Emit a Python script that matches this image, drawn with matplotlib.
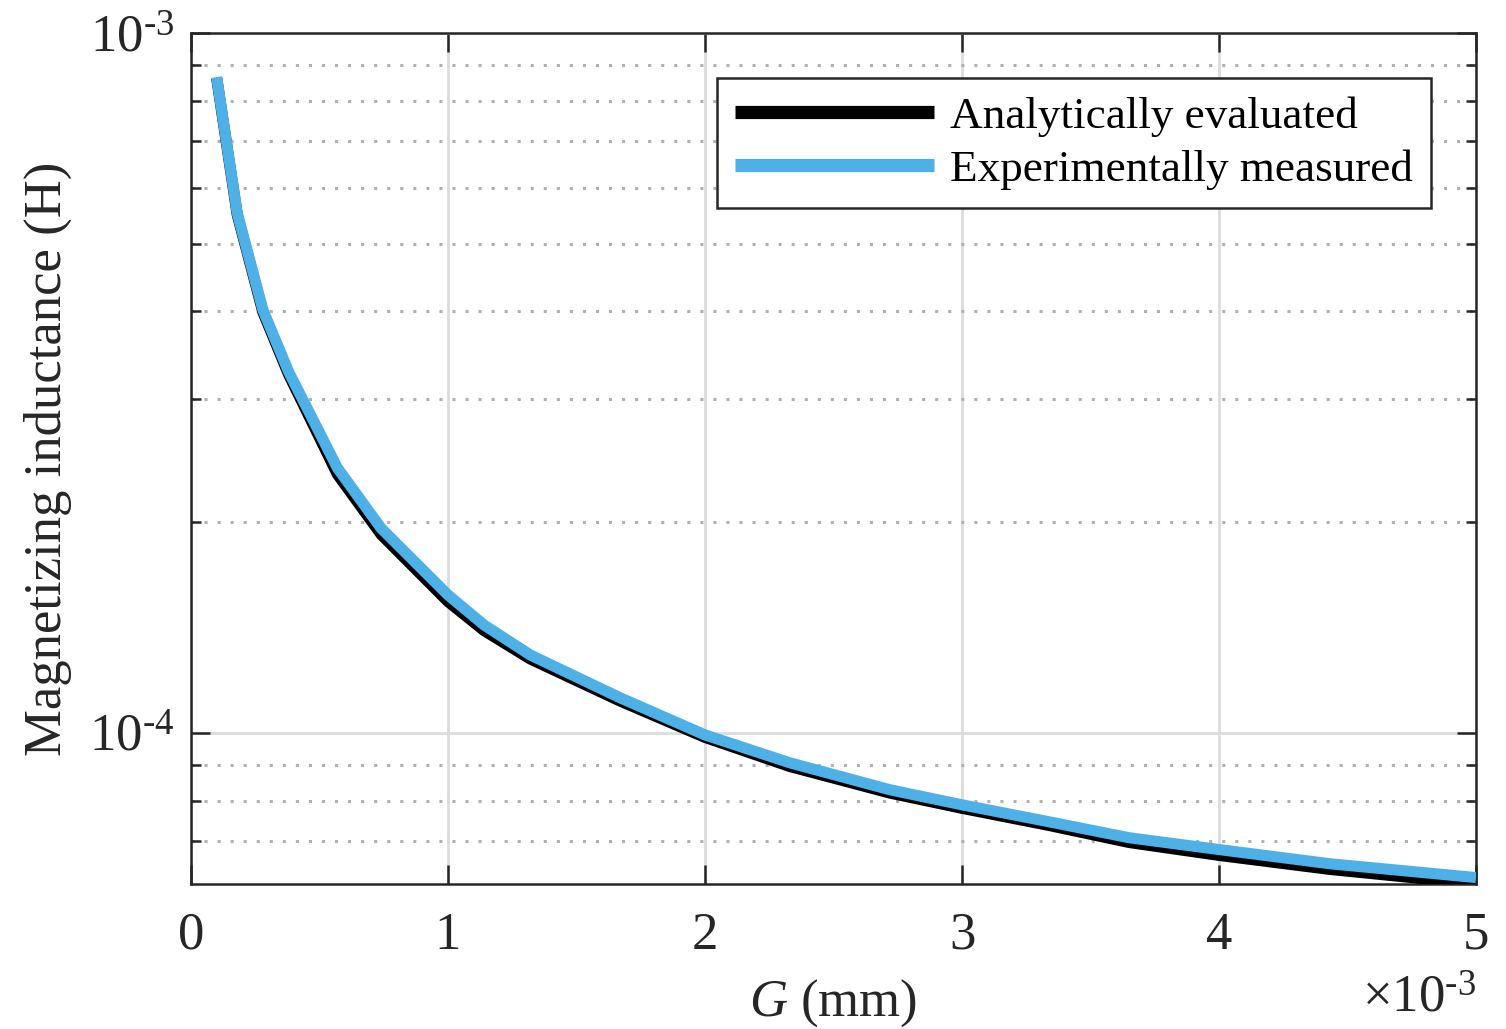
import numpy as np
import matplotlib.pyplot as plt
from matplotlib.ticker import FuncFormatter, LogLocator, NullFormatter

# gap length G (m) and magnetizing inductance (H)
G = [0.10e-3, 0.18e-3, 0.28e-3, 0.38e-3, 0.57e-3, 0.74e-3, 1.00e-3, 1.14e-3,
     1.32e-3, 1.67e-3, 2.00e-3, 2.33e-3, 2.72e-3, 3.00e-3, 3.34e-3, 3.65e-3,
     4.00e-3, 4.43e-3, 5.00e-3]
L_analytic = [8.62e-4, 5.50e-4, 3.99e-4, 3.25e-4, 2.34e-4, 1.92e-4, 1.54e-4, 1.40e-4,
              1.275e-4, 1.11e-4, 9.85e-5, 8.95e-5, 8.20e-5, 7.80e-5, 7.37e-5, 6.97e-5,
              6.68e-5, 6.38e-5, 6.08e-5]
L_measured = [8.65e-4, 5.53e-4, 4.02e-4, 3.28e-4, 2.39e-4, 1.96e-4, 1.574e-4, 1.426e-4,
              1.292e-4, 1.122e-4, 9.93e-5, 9.06e-5, 8.29e-5, 7.89e-5, 7.46e-5, 7.08e-5,
              6.81e-5, 6.50e-5, 6.21e-5]

plt.rcParams['font.family'] = 'Liberation Serif'
plt.rcParams['mathtext.fontset'] = 'custom'
plt.rcParams['mathtext.rm'] = 'Liberation Serif'
plt.rcParams['mathtext.it'] = 'Liberation Serif:italic'

dark = '#262626'
fs = 38
fig = plt.figure(figsize=(15.06, 10.29), dpi=100)
ax = fig.add_axes([0.1268, 0.1409, 0.8533, 0.827])

ax.plot(G, L_analytic, color='black', lw=8, solid_capstyle='butt',
        label='Analytically evaluated', zorder=3)
ax.plot(G, L_measured, color='#4DB0E6', lw=8, solid_capstyle='butt',
        label='Experimentally measured', zorder=4)

ax.set_yscale('log')
ax.set_xlim(0, 5e-3)
ax.set_ylim(6.08e-5, 1e-3)
ax.set_xticks([0, 1e-3, 2e-3, 3e-3, 4e-3, 5e-3])
ax.xaxis.set_major_formatter(FuncFormatter(lambda v, p: '%g' % round(v * 1e3, 6)))
ax.yaxis.set_major_locator(LogLocator(base=10, numticks=10))
ax.yaxis.set_major_formatter(FuncFormatter(
    lambda v, p: r'10$^{\text{-%d}}$' % round(-np.log10(v))))
ax.yaxis.set_minor_locator(LogLocator(base=10, subs=np.arange(2, 10), numticks=10))
ax.yaxis.set_minor_formatter(NullFormatter())

ax.grid(True, which='major', axis='both', color='#dcdcdc', lw=2, zorder=0)
ax.grid(True, which='minor', axis='y', color='#b0b0b0', lw=2.2, ls=(0, (1, 3.27)), zorder=0)
ax.set_axisbelow(True)

ax.tick_params(which='both', direction='in', top=True, right=True, colors=dark,
               width=1.8, labelsize=fs)
ax.tick_params(axis='x', pad=20)
ax.tick_params(axis='y', pad=12)
ax.tick_params(which='major', length=14)
ax.tick_params(which='minor', length=7)
for s in ax.spines.values():
    s.set_linewidth(1.8)
    s.set_color(dark)

ax.set_xlabel('$G$ (mm)', fontsize=fs, color=dark, labelpad=13)
ax.set_ylabel('Magnetizing inductance (H)', fontsize=fs, color=dark, labelpad=12)
fig.text(0.980, 0.006, r'$\times$10$^{\text{-3}}$', ha='right', va='bottom',
         fontsize=fs, color=dark)

leg = ax.legend(loc='upper right', fontsize=32.5, frameon=True, fancybox=False,
                edgecolor=dark, framealpha=1, handlelength=4.4, handletextpad=0.36,
                borderaxespad=1.0, borderpad=0.4, labelspacing=0.28)
leg.get_frame().set_linewidth(1.8)
for line in leg.get_lines():
    line.set_linewidth(9.5)
    line.set_solid_capstyle('butt')
for t in leg.get_texts():
    t.set_color('black')

fig.savefig('out.png', dpi=100)
